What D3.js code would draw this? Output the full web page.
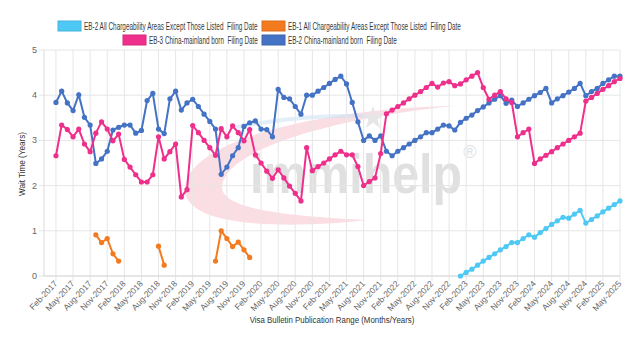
<!DOCTYPE html>
<html>
<head>
<meta charset="utf-8">
<script src="https://cdn.jsdelivr.net/npm/d3@7"></script>
<style>
  body { margin: 0; background: #fff; }
  text { font-family: "Liberation Sans", Arial, sans-serif; }
</style>
</head>
<body>
<svg id="chart" width="640" height="343"></svg>
<script>
// months on the x axis, Feb-2017 .. May-2025
const firstMonth = new Date(2017, 1, 1);
const lastMonth = new Date(2025, 4, 1);

const eb2ChinaValues = [3.84, 4.09, 3.83, 3.66, 4.01, 3.51, 3.34, 2.49, 2.59, 2.76,
  3.23, 3.29, 3.34, 3.34, 3.16, 3.22, 3.88, 4.04, 3.25, 3.15,
  3.92, 4.09, 3.67, 3.83, 3.91, 3.75, 3.58, 3.42, 3.25, 2.25,
  2.41, 2.66, 2.84, 3.31, 3.39, 3.43, 3.25, 3.24, 3.08, 4.13,
  3.95, 3.92, 3.75, 3.58, 4.00, 4.00, 4.09, 4.17, 4.26, 4.35,
  4.42, 4.25, 3.84, 3.41, 3.00, 3.10, 3.00, 3.10, 2.76, 2.66,
  2.76, 2.84, 2.92, 3.00, 3.08, 3.17, 3.17, 3.25, 3.34, 3.32,
  3.23, 3.40, 3.49, 3.56, 3.66, 3.74, 3.83, 3.91, 3.99, 3.82,
  3.89, 3.75, 3.83, 3.91, 3.99, 4.06, 4.15, 3.83, 3.92, 3.99,
  4.07, 4.15, 4.26, 3.99, 4.08, 4.15, 4.26, 4.34, 4.42, 4.42];

const eb3ChinaValues = [2.66, 3.34, 3.24, 3.08, 3.25, 2.92, 2.75, 3.16, 3.41, 3.25,
  2.99, 3.14, 2.58, 2.41, 2.24, 2.08, 2.08, 2.24, 3.08, 2.59,
  2.75, 2.92, 1.75, 1.91, 3.33, 3.17, 3.00, 2.84, 2.67, 3.26,
  3.08, 3.32, 3.17, 2.99, 3.24, 2.68, 2.50, 2.32, 2.16, 2.35,
  2.17, 1.99, 1.83, 1.66, 2.84, 2.33, 2.42, 2.50, 2.59, 2.68,
  2.76, 2.68, 2.68, 2.42, 2.00, 2.09, 2.17, 2.71, 3.59, 3.67,
  3.75, 3.83, 3.92, 4.00, 4.08, 4.17, 4.26, 4.18, 4.27, 4.30,
  4.21, 4.25, 4.34, 4.42, 4.50, 4.17, 3.91, 4.00, 4.08, 3.92,
  3.84, 3.08, 3.17, 3.25, 2.49, 2.59, 2.67, 2.75, 2.84, 2.92,
  3.00, 3.08, 3.16, 3.87, 3.95, 4.04, 4.13, 4.21, 4.30, 4.37];

// EB-2 rest of world starts Jan-2023
const eb2RowStart = new Date(2023, 0, 1);
const eb2RowValues = [0.00, 0.08, 0.15, 0.24, 0.33, 0.41, 0.49, 0.58, 0.65, 0.74,
  0.74, 0.83, 0.91, 0.86, 0.96, 1.05, 1.14, 1.22, 1.30, 1.28,
  1.37, 1.45, 1.17, 1.25, 1.33, 1.42, 1.50, 1.58, 1.66];

// EB-1 rest of world, only a few short runs
const eb1RowStarts = [new Date(2017, 8, 1), new Date(2018, 7, 1), new Date(2019, 5, 1)];
const eb1RowValues = [
  [0.91, 0.74, 0.83, 0.49, 0.33],
  [0.66, 0.24],
  [0.33, 1.00, 0.83, 0.65, 0.75, 0.58, 0.41]
];

const yTicks = [0, 1, 2, 3, 4, 5];

const legendItems = [
  {name: "EB-2 All Chargeability Areas Except Those Listed  Filing Date", color: "#4ec8f4", x: 58, y: 21, w: 174},
  {name: "EB-1 All Chargeability Areas Except Those Listed  Filing Date", color: "#f47a20", x: 262, y: 21, w: 173},
  {name: "EB-3 China-mainland born  Filing Date", color: "#ee2f8b", x: 123, y: 35, w: 109},
  {name: "EB-2 China-mainland born  Filing Date", color: "#4472c4", x: 262, y: 35, w: 109}
];

const months = d3.timeMonth.range(firstMonth, d3.timeMonth.offset(lastMonth, 1));
const fmt = d3.timeFormat("%b-%Y");
const idx = d => d3.timeMonth.count(firstMonth, d);

function toPoints(start, values) {
  let s = idx(start);
  return values.map((v, i) => ({i: s + i, v: v}));
}

// squeeze a text horizontally to a given width (the source image is narrow)
function fit(sel, px, py, w, rot) {
  let len = sel.node().getComputedTextLength();
  let k = w / len;
  sel.attr("x", 0).attr("y", 0)
    .attr("transform", "translate(" + px + "," + py + ")" + (rot ? " rotate(" + rot + ")" : "") + " scale(" + k + ",1)");
}

let svg = d3.select("#chart");
let mLeft = 44, mRight = 620, mTop = 50, mBottom = 276;

let x = d3.scaleLinear()
  .domain([-2.1, months.length - 1])
  .range([mLeft, mRight]);
let y = d3.scaleLinear()
  .domain([0, 5])
  .range([mBottom, mTop]);

// watermark
let wm = svg.append("g");
wm.append("path")
  .attr("d", "M455,106 C330,108 188,138 185,188 C182,226 280,230 368,220 C290,216 220,210 222,186 C226,148 340,117 455,106 Z")
  .attr("fill", "#f4a9bb")
  .attr("opacity", 0.4);
wm.append("path")
  .attr("d", "M232,128 C280,118 330,115 375,116")
  .attr("fill", "none")
  .attr("stroke", "#cfe2f4")
  .attr("stroke-width", 4)
  .attr("opacity", 0.6);
wm.append("path")
  .attr("d", d3.symbol(d3.symbolStar, 170)())
  .attr("transform", "translate(373,118)")
  .attr("fill", "#e6e6e6");
let wmText = wm.append("text")
  .attr("font-size", 56)
  .attr("font-weight", "bold")
  .attr("fill", "#d4d4d4")
  .attr("opacity", 0.7)
  .text("immihelp");
fit(wmText, 250, 193, 212);
wm.append("text")
  .attr("x", 470).attr("y", 158)
  .attr("font-size", 18)
  .attr("text-anchor", "middle")
  .attr("fill", "#e2e2e2")
  .text("®");

// grid
let tickIdx = d3.range(0, months.length, 3);
svg.append("g")
  .selectAll("line")
  .data(tickIdx)
  .enter().append("line")
  .attr("x1", d => x(d)).attr("x2", d => x(d))
  .attr("y1", mTop).attr("y2", mBottom + 5)
  .attr("stroke", "#e6e6e6");
svg.append("g")
  .selectAll("line")
  .data(yTicks)
  .enter().append("line")
  .attr("x1", mLeft - 5).attr("x2", mRight)
  .attr("y1", d => y(d)).attr("y2", d => y(d))
  .attr("stroke", "#e6e6e6");
svg.append("line")
  .attr("x1", mLeft).attr("x2", mLeft)
  .attr("y1", mTop).attr("y2", mBottom)
  .attr("stroke", "#d9d9d9");
svg.append("line")
  .attr("x1", mLeft).attr("x2", mRight)
  .attr("y1", mBottom).attr("y2", mBottom)
  .attr("stroke", "#d9d9d9");

// y ticks
svg.append("g")
  .selectAll("text")
  .data(yTicks)
  .enter().append("text")
  .attr("x", mLeft - 7)
  .attr("y", d => y(d) + 3)
  .attr("text-anchor", "end")
  .attr("font-size", 9)
  .attr("fill", "#666")
  .text(d => d);

// x ticks
svg.append("g")
  .selectAll("text")
  .data(tickIdx)
  .enter().append("text")
  .attr("transform", d => "translate(" + (x(d) + 2) + "," + (mBottom + 8) + ") rotate(-47)")
  .attr("text-anchor", "end")
  .attr("font-size", 8.5)
  .attr("fill", "#666")
  .text(d => fmt(months[d]));

// axis titles
let yTitle = svg.append("text")
  .attr("text-anchor", "middle")
  .attr("font-size", 9.5)
  .attr("fill", "#333")
  .text("Wait Time (Years)");
fit(yTitle, 25, 164, 64, -90);
let xTitle = svg.append("text")
  .attr("text-anchor", "middle")
  .attr("font-size", 9.5)
  .attr("fill", "#333")
  .text("Visa Bulletin Publication Range (Months/Years)");
fit(xTitle, (mLeft + mRight) / 2, 323, 165);

// series
let line = d3.line()
  .x(d => x(d.i))
  .y(d => y(d.v));

let series = [
  {color: "#4472c4", runs: [toPoints(firstMonth, eb2ChinaValues)]},
  {color: "#ee2f8b", runs: [toPoints(firstMonth, eb3ChinaValues)]},
  {color: "#f47a20", runs: eb1RowStarts.map((s, k) => toPoints(s, eb1RowValues[k]))},
  {color: "#4ec8f4", runs: [toPoints(eb2RowStart, eb2RowValues)]}
];

series.forEach(s => {
  let g = svg.append("g");
  s.runs.forEach(run => {
    g.append("path")
      .datum(run)
      .attr("d", line)
      .attr("fill", "none")
      .attr("stroke", s.color)
      .attr("stroke-width", 2);
    g.selectAll(null)
      .data(run)
      .enter().append("circle")
      .attr("cx", d => x(d.i))
      .attr("cy", d => y(d.v))
      .attr("r", 2.6)
      .attr("fill", s.color);
  });
});

// legend
let lg = svg.append("g");
legendItems.forEach(d => {
  lg.append("rect")
    .attr("x", d.x).attr("y", d.y)
    .attr("width", 23).attr("height", 10)
    .attr("fill", d.color)
    .attr("stroke", d3.color(d.color).darker(0.3))
    .attr("stroke-width", 1);
  let t = lg.append("text")
    .attr("font-size", 10)
    .attr("fill", "#3a3a3a")
    .style("white-space", "pre")
    .text(d.name);
  fit(t, d.x + 26, d.y + 8.5, d.w);
});
</script>
</body>
</html>
